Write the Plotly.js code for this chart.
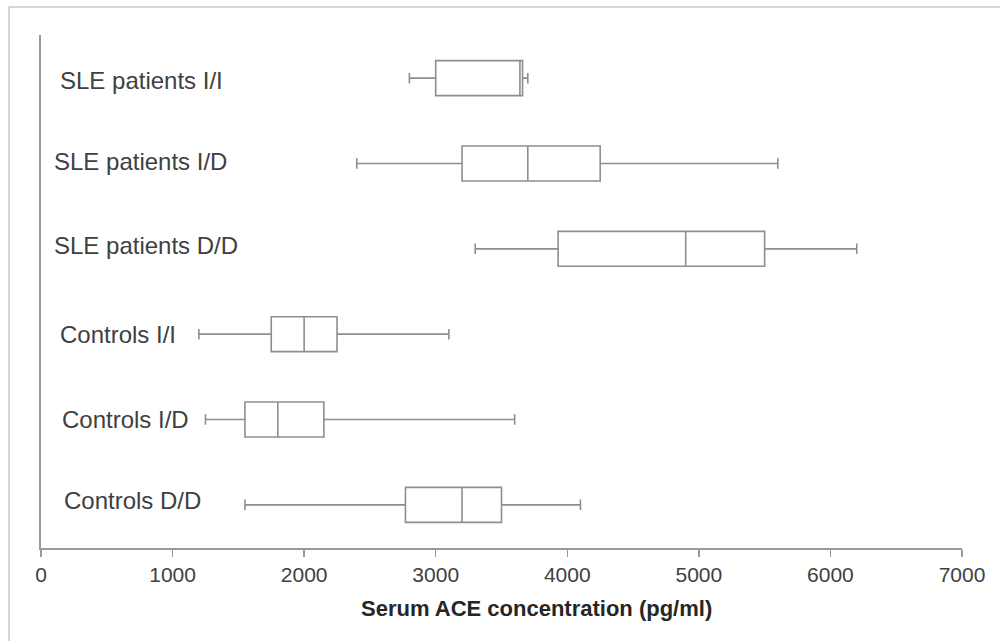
<!DOCTYPE html>
<html>
<head>
<meta charset="utf-8">
<script src="https://cdn.plot.ly/plotly-3.0.1.min.js"></script>
<style>
  html, body { margin: 0; padding: 0; background: #ffffff; }
  #chart { width: 1000px; height: 641px; }
</style>
</head>
<body>
<div id="chart"></div>
<script>
// Data (pg/ml)
const categories = [
  "SLE patients I/I",
  "SLE patients I/D",
  "SLE patients D/D",
  "Controls I/I",
  "Controls I/D",
  "Controls D/D"
];
const lowerWhisker = [2800, 2400, 3300, 1200, 1250, 1550];
const q1Values     = [3000, 3200, 3930, 1750, 1550, 2770];
const medianValues = [3640, 3700, 4900, 2000, 1800, 3200];
const q3Values     = [3660, 4250, 5500, 2250, 2150, 3500];
const upperWhisker = [3700, 5600, 6200, 3100, 3600, 4100];
const xTicks = [0, 1000, 2000, 3000, 4000, 5000, 6000, 7000];
const xTitle = "Serum ACE concentration (pg/ml)";

// Label placement tweaks (pixels), styling only
const labelXShift = [17, 11, 11, 17, 19, 21];
const labelYShift = [-2, 2, 3, 0, 0, 4];

const FONT = "'Liberation Sans', Arial, Helvetica, sans-serif";
const LINE = "#8e8e8e";

const trace = {
  type: "box",
  orientation: "h",
  y: categories,
  q1: q1Values,
  median: medianValues,
  q3: q3Values,
  lowerfence: lowerWhisker,
  upperfence: upperWhisker,
  fillcolor: "#ffffff",
  line: { color: LINE, width: 1.6 },
  width: 0.41,
  whiskerwidth: 0.3,
  boxpoints: false,
  hoverinfo: "x",
  showlegend: false
};

const annotations = categories.map((c, i) => ({
  xref: "paper", yref: "y",
  x: 0, y: c,
  xanchor: "left", yanchor: "middle",
  xshift: labelXShift[i], yshift: labelYShift[i],
  text: c,
  showarrow: false,
  font: { family: FONT, size: 24, color: "#404040" }
}));

annotations.push({
  xref: "paper", yref: "paper",
  x: 0.5385, y: -0.117,
  xanchor: "center", yanchor: "middle",
  text: "<b>" + xTitle + "</b>",
  showarrow: false,
  font: { family: FONT, size: 22, color: "#262626" }
});

const layout = {
  width: 1000,
  height: 641,
  margin: { l: 41, r: 38, t: 35, b: 93, pad: 0 },
  paper_bgcolor: "#ffffff",
  plot_bgcolor: "#ffffff",
  showlegend: false,
  font: { family: FONT, color: "#404040" },
  xaxis: {
    range: [0, 7000],
    tickvals: xTicks,
    ticktext: xTicks.map(String),
    ticks: "outside",
    ticklen: 7,
    tickwidth: 1.5,
    tickcolor: "#9a9a9a",
    showline: true,
    linecolor: "#9a9a9a",
    linewidth: 1.8,
    showgrid: false,
    zeroline: false,
    tickfont: { family: FONT, size: 21, color: "#404040" },
    fixedrange: true
  },
  yaxis: {
    type: "category",
    categoryorder: "array",
    categoryarray: categories,
    autorange: "reversed",
    range: [5.5, -0.5],
    showticklabels: false,
    ticks: "",
    showline: true,
    linecolor: "#9a9a9a",
    linewidth: 1.8,
    showgrid: false,
    zeroline: false,
    fixedrange: true
  },
  annotations: annotations,
  shapes: [
    { type: "line", xref: "paper", yref: "paper",
      x0: -32 / 921, x1: 1000 / 921, y0: 1 + 28 / 513, y1: 1 + 28 / 513,
      line: { color: "#c8c8c8", width: 1.5 } },
    { type: "line", xref: "paper", yref: "paper",
      x0: -32 / 921, x1: -32 / 921, y0: 1 + 28 / 513, y1: -93 / 513,
      line: { color: "#c8c8c8", width: 1.5 } },
    { type: "line", xref: "paper", yref: "paper",
      x0: 0, x1: 0, y0: 0, y1: -6 / 513,
      line: { color: "#9a9a9a", width: 1.5 } }
  ]
};

Plotly.newPlot("chart", [trace], layout, { displayModeBar: false, staticPlot: true });
</script>
</body>
</html>
